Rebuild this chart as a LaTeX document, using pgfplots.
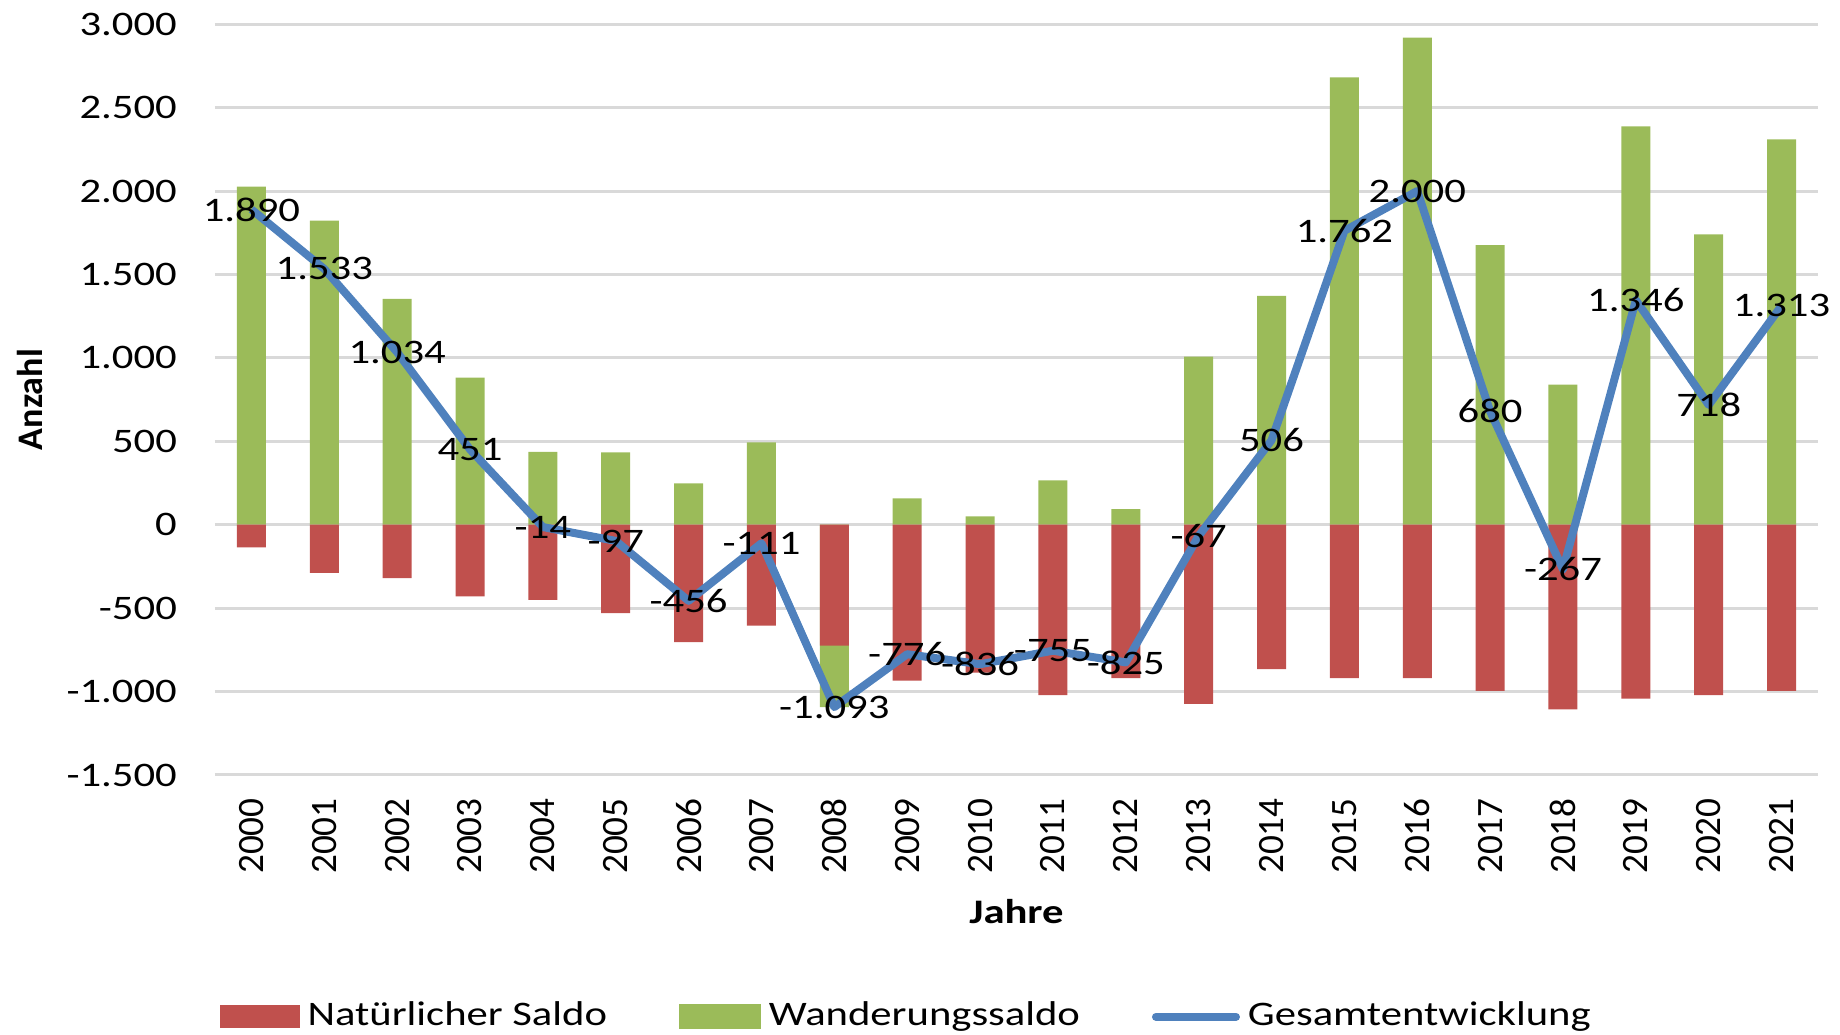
\documentclass[border=0pt]{standalone}
\usepackage{fontspec}
\setmainfont{Carlito}[FakeStretch=1.24]
\newfontfamily\yearfont{Carlito}
\usepackage{pgfplots}
\pgfplotsset{compat=1.18}
\usepackage{pgfplotstable}
\usetikzlibrary{calc}

\definecolor{natred}{HTML}{C0504D}
\definecolor{wandgreen}{HTML}{9BBB59}
\definecolor{gesblue}{HTML}{4F81BD}
\definecolor{gridgray}{HTML}{D9D9D9}

% gbar = how far the green bar reaches (2008: below the red bar, to the total)
\pgfplotstableread{
x year nat mig gbar total
0 2000 -136 2026 2026 1890
1 2001 -289 1822 1822 1533
2 2002 -320 1354 1354 1034
3 2003 -430 881 881 451
4 2004 -450 436 436 -14
5 2005 -530 433 433 -97
6 2006 -704 248 248 -456
7 2007 -604 493 493 -111
8 2008 -724 -369 -1093 -1093
9 2009 -934 158 158 -776
10 2010 -886 50 50 -836
11 2011 -1021 266 266 -755
12 2012 -919 94 94 -825
13 2013 -1074 1007 1007 -67
14 2014 -866 1372 1372 506
15 2015 -920 2682 2682 1762
16 2016 -920 2920 2920 2000
17 2017 -996 1676 1676 680
18 2018 -1107 840 840 -267
19 2019 -1042 2388 2388 1346
20 2020 -1022 1740 1740 718
21 2021 -996 2309 2309 1313
}\saldo

\begin{document}
\begin{tikzpicture}
\begin{axis}[
    scale only axis,
    width=400.75pt, height=187.7pt,
    xmin=-0.5, xmax=21.5,
    ymin=-1500, ymax=3000,
    ytick={-1500,-1000,...,3000},
    xtick={0,...,21},
    xticklabels={2000,2001,2002,2003,2004,2005,2006,2007,2008,2009,2010,2011,2012,2013,2014,2015,2016,2017,2018,2019,2020,2021},
    x tick label style={rotate=90, anchor=east, xshift=-2.3pt, font=\yearfont\fontsize{9.3}{10}\selectfont},
    y tick label style={xshift=-6pt, font=\fontsize{8.6}{10}\selectfont},
    ymajorgrids,
    major grid style={gridgray, line width=0.75pt},
    axis line style={draw=none},
    tick style={draw=none},
    xlabel={\bfseries Jahre},
    ylabel={\yearfont\bfseries Anzahl},
    x label style={at={(axis description cs:0.5,-0.1825)}, anchor=center, font=\fontsize{8.6}{10}\selectfont},
    y label style={at={(axis description cs:-0.1157,0.5)}, anchor=center, font=\fontsize{9}{10}\selectfont},
    /pgf/number format/.cd, 1000 sep={.}, assume math mode=true,
    /pgfplots/.cd,
    clip=false,
    legend columns=3,
    legend style={draw=none, at={(0.433,-0.322)}, anchor=center,
        font=\fontsize{8.6}{10}\selectfont,
        /tikz/every even column/.append style={column sep=16pt}},
    legend cell align=left,
]
\addplot[ybar, bar width=0.398, bar shift=0pt, fill=wandgreen, draw=none, forget plot]
    table[x=x, y=gbar] {\saldo};
\addplot[ybar, bar width=0.398, bar shift=0pt, fill=natred, draw=none,
    legend image code/.code={\fill[natred] (0pt,-2.9pt) rectangle (20pt,2.9pt);}]
    table[x=x, y=nat] {\saldo};
\addlegendentry{Natürlicher Saldo}
\addlegendimage{legend image code/.code={\fill[wandgreen] (0pt,-2.9pt) rectangle (20pt,2.9pt);}}
\addlegendentry{Wanderungssaldo}
\addplot[gesblue, line width=2pt, line join=round, mark=none,
    nodes near coords,
    nodes near coords style={anchor=center, black, font=\fontsize{8.6}{10}\selectfont},
    legend image code/.code={\draw[gesblue, line width=2pt, line cap=round] (0pt,0pt) -- (20pt,0pt);}]
    table[x=x, y=total] {\saldo};
\addlegendentry{Gesamtentwicklung}
\coordinate (sw) at (rel axis cs:0,0);
\coordinate (ne) at (rel axis cs:1,1);
\end{axis}
\pgfresetboundingbox
\path[use as bounding box] ($(sw)+(-53.75pt,-65pt)$) rectangle ($(ne)+(5.5pt,6.05pt)$);
\end{tikzpicture}
\end{document}
